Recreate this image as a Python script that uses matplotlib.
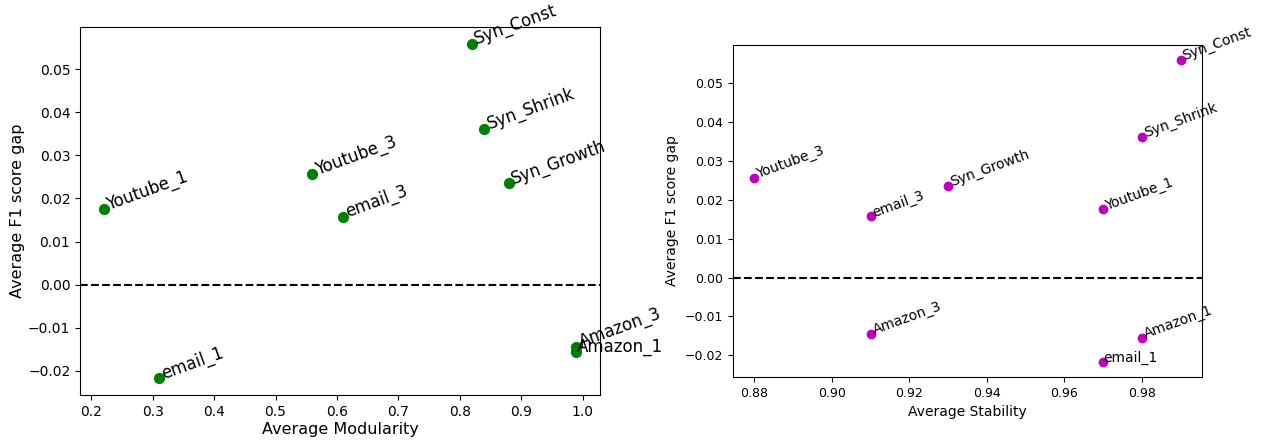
import matplotlib
matplotlib.use("Agg")
import matplotlib.pyplot as plt

# datasets
names = ["Syn_Const", "Syn_Shrink", "Syn_Growth", "Youtube_1", "Youtube_3",
         "email_3", "email_1", "Amazon_3", "Amazon_1"]
modularity = [0.82, 0.84, 0.88, 0.22, 0.56, 0.61, 0.31, 0.99, 0.99]
stability = [0.99, 0.98, 0.93, 0.97, 0.88, 0.91, 0.97, 0.91, 0.98]
f1_gap = [0.0559, 0.0362, 0.0235, 0.0175, 0.0256, 0.0157, -0.0217, -0.0145, -0.0155]

# label rotation per point (some labels were left flat)
rot_left = [20, 20, 20, 20, 20, 20, 20, 20, 0]
rot_right = [20, 20, 20, 20, 20, 20, 0, 20, 20]

fig = plt.figure(figsize=(12.74, 4.41), dpi=100)

# left panel: modularity
ax1 = fig.add_axes([0.0628, 0.1043, 0.4082, 0.8345])
ax1.scatter(modularity, f1_gap, color="green", s=50, zorder=3)
for i, name in enumerate(names):
    ax1.annotate(name, (modularity[i], f1_gap[i]), fontsize=12,
                 rotation=rot_left[i], annotation_clip=False)
ax1.axhline(0, color="black", linestyle="--")
ax1.set_xlabel("Average Modularity", fontsize=11.5, labelpad=2)
ax1.set_ylabel("Average F1 score gap", fontsize=11.5, labelpad=2)
ax1.tick_params(labelsize=10)

# right panel: stability
ax2 = fig.add_axes([0.5754, 0.1451, 0.3681, 0.7528])
ax2.scatter(stability, f1_gap, color="m", s=36, zorder=3)
for i, name in enumerate(names):
    ax2.annotate(name, (stability[i], f1_gap[i]), fontsize=10,
                 rotation=rot_right[i], annotation_clip=False)
ax2.axhline(0, color="black", linestyle="--")
ax2.set_xlabel("Average Stability", fontsize=10)
ax2.set_ylabel("Average F1 score gap", fontsize=10)
ax2.tick_params(labelsize=9)

fig.savefig("out.png", dpi=100)
